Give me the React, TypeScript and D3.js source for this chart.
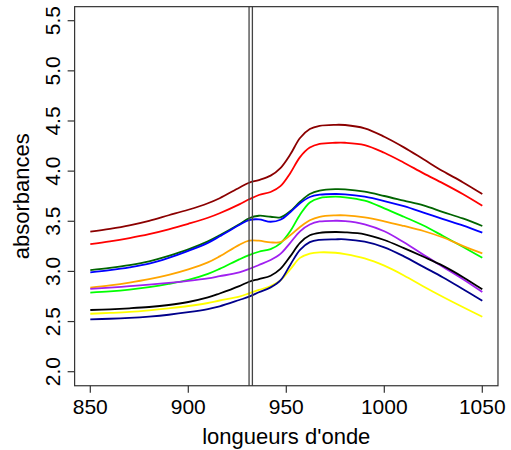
import React from "react";
import * as d3 from "d3";

const wavelengths = [850, 860, 870, 880, 890, 900, 910, 916, 926, 931, 936, 942, 947, 952, 957, 962, 967, 975, 980, 990, 1000, 1010, 1020, 1030, 1040, 1050];

const sDarkred = [3.396, 3.425, 3.46, 3.505, 3.56, 3.615, 3.68, 3.73, 3.835, 3.884, 3.911, 3.955, 4.03, 4.165, 4.33, 4.42, 4.452, 4.462, 4.46, 4.427, 4.343, 4.237, 4.118, 3.998, 3.89, 3.772];
const sRed = [3.273, 3.3, 3.333, 3.372, 3.42, 3.475, 3.535, 3.58, 3.669, 3.719, 3.762, 3.792, 3.85, 3.98, 4.14, 4.235, 4.272, 4.283, 4.283, 4.26, 4.183, 4.084, 3.978, 3.878, 3.772, 3.655];
const sDarkgreen = [3.012, 3.035, 3.063, 3.1, 3.155, 3.22, 3.3, 3.36, 3.47, 3.53, 3.555, 3.545, 3.539, 3.6, 3.695, 3.772, 3.805, 3.82, 3.818, 3.795, 3.752, 3.705, 3.658, 3.592, 3.528, 3.453];
const sBlue = [2.99, 3.012, 3.04, 3.077, 3.135, 3.205, 3.285, 3.35, 3.463, 3.512, 3.519, 3.495, 3.515, 3.59, 3.68, 3.742, 3.765, 3.772, 3.769, 3.745, 3.702, 3.65, 3.587, 3.522, 3.46, 3.386];
const sGreen = [2.788, 2.8, 2.818, 2.843, 2.875, 2.915, 2.975, 3.025, 3.12, 3.163, 3.196, 3.223, 3.28, 3.4, 3.565, 3.688, 3.732, 3.745, 3.739, 3.705, 3.629, 3.545, 3.458, 3.353, 3.246, 3.137];
const sOrange = [2.837, 2.86, 2.888, 2.922, 2.965, 3.02, 3.09, 3.15, 3.265, 3.306, 3.306, 3.29, 3.292, 3.36, 3.442, 3.51, 3.545, 3.559, 3.559, 3.539, 3.5, 3.453, 3.403, 3.338, 3.255, 3.18];
const sPurple = [2.825, 2.838, 2.853, 2.868, 2.885, 2.905, 2.93, 2.952, 2.991, 3.024, 3.064, 3.114, 3.175, 3.285, 3.4, 3.468, 3.498, 3.505, 3.502, 3.47, 3.4, 3.29, 3.165, 3.045, 2.925, 2.795];
const sBlack = [2.615, 2.622, 2.632, 2.645, 2.665, 2.695, 2.74, 2.78, 2.854, 2.897, 2.924, 2.957, 3.025, 3.15, 3.285, 3.36, 3.385, 3.393, 3.39, 3.37, 3.313, 3.232, 3.146, 3.055, 2.945, 2.821];
const sYellow = [2.578, 2.586, 2.596, 2.612, 2.632, 2.655, 2.685, 2.71, 2.748, 2.782, 2.815, 2.854, 2.91, 3.02, 3.135, 3.178, 3.19, 3.186, 3.173, 3.13, 3.057, 2.96, 2.85, 2.745, 2.645, 2.548];
const sNavy = [2.522, 2.528, 2.537, 2.55, 2.568, 2.593, 2.625, 2.652, 2.715, 2.748, 2.792, 2.841, 2.91, 3.065, 3.215, 3.292, 3.315, 3.32, 3.32, 3.296, 3.24, 3.15, 3.045, 2.94, 2.825, 2.708];

const seriesList = [sDarkred, sRed, sDarkgreen, sBlue, sGreen, sOrange, sPurple, sBlack, sYellow, sNavy];
const seriesColors = ["#8B0000", "#FF0000", "#006400", "#0000FF", "#00FF00", "#FFA500", "#A020F0", "#000000", "#FFFF00", "#00008B"];

const xTicks = [850, 900, 950, 1000, 1050];
const yTicks = [2.0, 2.5, 3.0, 3.5, 4.0, 4.5, 5.0, 5.5];
const vLines = [931, 932.7];

const W = 511;
const H = 450;
const FONT = "'Liberation Sans', Arial, Helvetica, sans-serif";

export default function App() {
  const x = d3.scaleLinear().domain([842, 1058]).range([74.62, 497.98]);
  const y = d3.scaleLinear().domain([1.86, 5.64]).range([385.74, 6.66]);
  const line = d3
    .line<[number, number]>()
    .x((d) => x(d[0]))
    .y((d) => y(d[1]))
    .curve(d3.curveCatmullRom.alpha(0.5));

  const [x0, x1] = x.range();
  const [yb, yt] = y.range();

  return (
    <svg width={W} height={H} style={{ position: "absolute", left: 0, top: 0 }} fontFamily={FONT}>
      <rect x={0} y={0} width={W} height={H} fill="#fff" />
      {seriesList.map((s, i) => (
        <path
          key={i}
          d={line(wavelengths.map((w, j) => [w, s[j]] as [number, number])) || ""}
          fill="none"
          stroke={seriesColors[i]}
          strokeWidth={1.8}
        />
      ))}
      {vLines.map((v, i) => (
        <line key={i} x1={x(v)} x2={x(v)} y1={yt} y2={yb} stroke="#444" strokeWidth={1.3} />
      ))}
      <rect x={x0} y={yt} width={x1 - x0} height={yb - yt} fill="none" stroke="#333" strokeWidth={1.2} />
      {xTicks.map((t) => (
        <g key={t}>
          <line x1={x(t)} x2={x(t)} y1={yb} y2={yb + 7} stroke="#333" strokeWidth={1.2} />
          <text x={x(t)} y={413.5} fontSize={21} textAnchor="middle" fill="#000">
            {t}
          </text>
        </g>
      ))}
      {yTicks.map((t) => (
        <g key={t}>
          <line x1={x0} x2={x0 - 7} y1={y(t)} y2={y(t)} stroke="#333" strokeWidth={1.2} />
          <text
            transform={`translate(60,${y(t)}) rotate(-90)`}
            fontSize={21}
            textAnchor="middle"
            fill="#000"
          >
            {t.toFixed(1)}
          </text>
        </g>
      ))}
      <text x={(x0 + x1) / 2} y={444} fontSize={22} textAnchor="middle" fill="#000">
        longueurs d'onde
      </text>
      <text
        transform={`translate(29,${(yt + yb) / 2}) rotate(-90)`}
        fontSize={22}
        textAnchor="middle"
        fill="#000"
      >
        absorbances
      </text>
    </svg>
  );
}
